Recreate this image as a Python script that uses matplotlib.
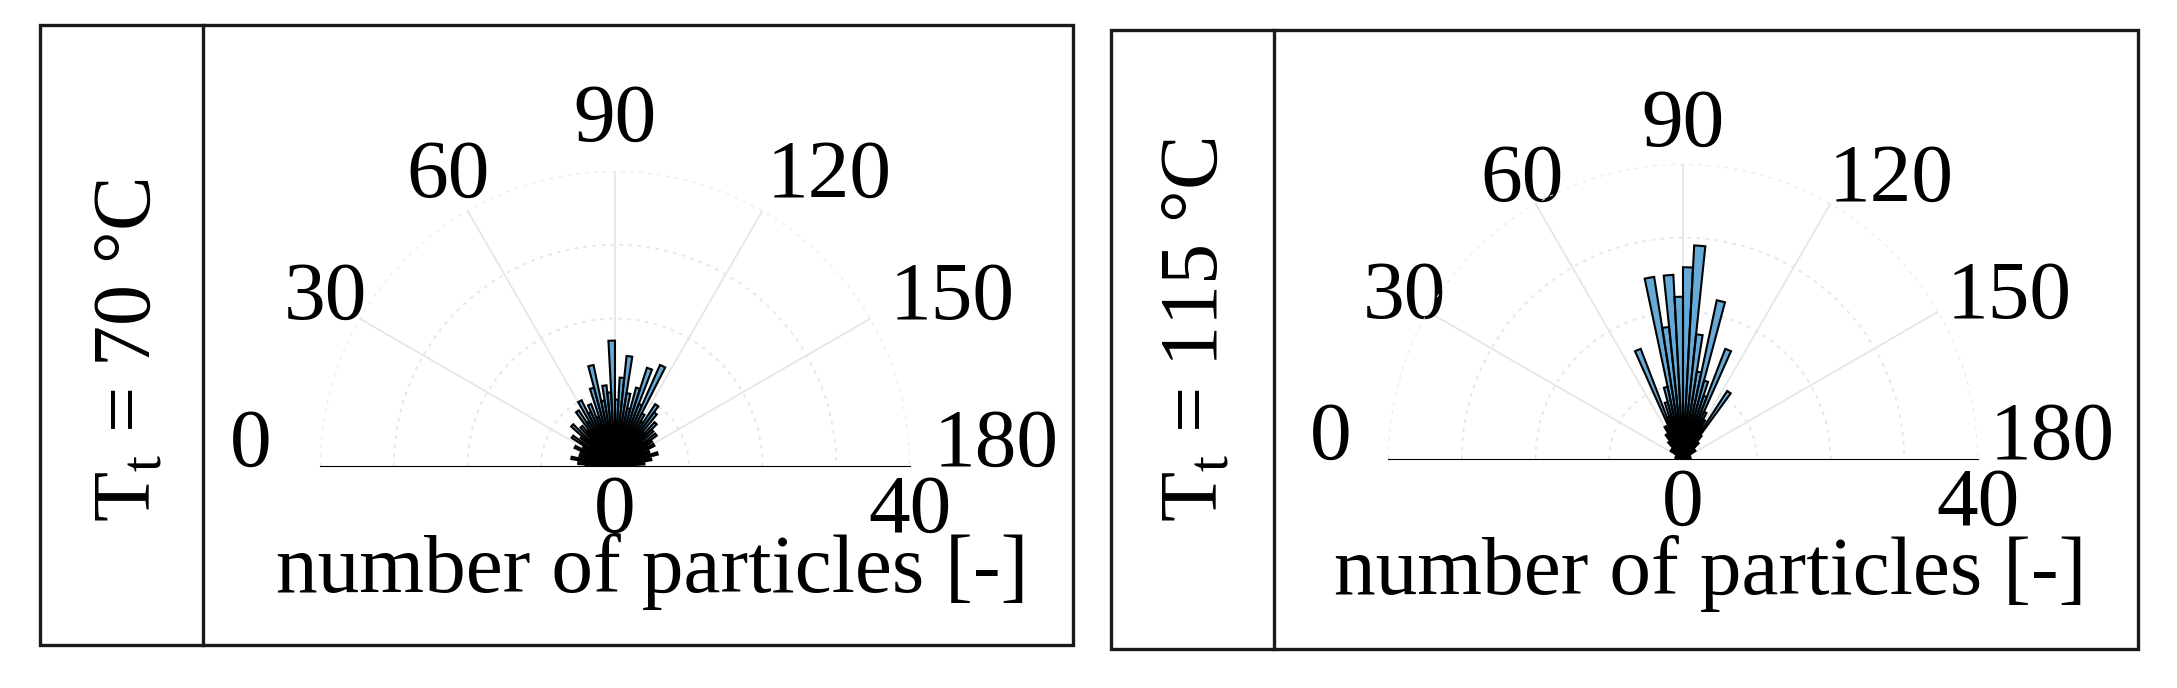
import numpy as np
import matplotlib
matplotlib.use('Agg')
import matplotlib.pyplot as plt
from matplotlib.patches import Rectangle
from matplotlib.lines import Line2D
from matplotlib.transforms import offset_copy, ScaledTranslation

plt.rcParams['font.family'] = ['Liberation Serif', 'DejaVu Serif']
plt.rcParams['mathtext.fontset'] = 'custom'
plt.rcParams['mathtext.rm'] = 'Liberation Serif'
plt.rcParams['mathtext.it'] = 'Liberation Serif:italic'

W, H = 2177, 688

# histogram of particle orientation, 3 deg bins
bin_width = 3
bin_centers = np.arange(1.5, 180, bin_width)

counts_70 = [4, 5, 3, 6, 4, 5, 3, 5, 6, 4,
             5, 7, 4, 6, 8, 5, 7, 6, 9, 7,
             10, 8, 9, 7, 11, 14, 9, 11, 10, 17,
             9, 12, 15, 10, 8, 11, 14, 9, 15, 8,
             7, 10, 9, 6, 8, 7, 5, 7, 6, 5,
             6, 4, 5, 3, 6, 4, 5, 3, 4, 2]

counts_115 = [0, 1, 0, 1, 1, 0, 1, 1, 0, 1,
              1, 2, 1, 2, 1, 2, 3, 2, 4, 3,
              5, 4, 16, 6, 8, 10, 25, 18, 25, 22,
              26, 29, 17, 12, 22, 11, 9, 16, 7, 6,
              5, 11, 4, 3, 3, 2, 2, 1, 2, 1,
              1, 0, 1, 1, 0, 1, 0, 1, 0, 1]

temps = ['70', '115']
angle_ticks = [0, 30, 60, 90, 120, 150, 180]
r_ticks = [0, 10, 20, 30, 40]
r_max = 40
xlabel = 'number of particles [-]'

# panel layout in pixels (x0, y0, x1, y1 from top-left)
layout = [
    dict(box=(40, 25, 1073, 645), div=203, center=(615, 466), R=295,
         tlabel=(130, 350), xlab=(652, 592), pad=21),
    dict(box=(1111, 30, 2138, 649), div=1274, center=(1683, 459), R=295,
         tlabel=(1197, 330), xlab=(1710, 594), pad=12),
]
# horizontal alignment and pixel nudge of the angle labels
label_ha = {0: 'right', 30: 'center', 60: 'center', 90: 'center',
            120: 'left', 150: 'left', 180: 'left'}
label_dx = {0: -10, 30: 0, 60: 0, 90: 0, 120: -15, 150: -15, 180: -15}

face = (0.0, 0.447, 0.741, 0.6)
grid_c = '#e6e6e6'
fs = 60

fig = plt.figure(figsize=(W / 100, H / 100), dpi=100)


def fx(x):
    return x / W


def fy(y):
    return 1 - y / H


for temp, counts, lay in zip(temps, [counts_70, counts_115], layout):
    x0, y0, x1, y1 = lay['box']
    fig.add_artist(Rectangle((fx(x0), fy(y1)), fx(x1) - fx(x0), fy(y0) - fy(y1),
                             transform=fig.transFigure, fill=False,
                             edgecolor='#1a1a1a', linewidth=2.4))
    fig.add_artist(Line2D([fx(lay['div'])] * 2, [fy(y0), fy(y1)],
                          transform=fig.transFigure, color='#1a1a1a', linewidth=2.4))

    cx, cy = lay['center']
    R = lay['R']
    # the half wedge is fitted into a square box, centred vertically
    ax = fig.add_axes([fx(cx - R), fy(cy + 0.5 * R), 2 * R / W, 2 * R / H],
                      projection='polar')
    ax.set_theta_zero_location('W')
    ax.set_theta_direction(-1)
    ax.set_thetamin(0)
    ax.set_thetamax(180)
    ax.set_ylim(0, r_max)

    ax.bar(np.deg2rad(bin_centers), counts, width=np.deg2rad(bin_width),
           facecolor=face, edgecolor='black', linewidth=1.5, zorder=3)

    ax.set_thetagrids(angle_ticks, [str(a) for a in angle_ticks], fontsize=fs)
    ax.set_rticks(r_ticks)
    ax.set_yticklabels([])
    ax.tick_params(axis='both', length=0)
    ax.xaxis.grid(True, color=grid_c, linewidth=1.3, linestyle='-')
    ax.yaxis.grid(True, color=grid_c, linewidth=1.3, linestyle=(0, (2, 3)))
    for s in ax.spines.values():
        s.set_visible(False)
    ax.set_facecolor('none')
    for a, tick in zip(angle_ticks, ax.xaxis.get_major_ticks()):
        lab = tick.label1
        lab.set_ha(label_ha[a])
        if a == 90:
            tick.set_pad(lay['pad'] - 6)
            lab.set_va('baseline')
        else:
            tick.set_pad(lay['pad'])
        if a in (0, 180):
            lab.set_va('baseline')
            tick.gridline.set_visible(False)
        if label_dx[a]:
            lab.set_transform(lab.get_transform() +
                              ScaledTranslation(label_dx[a] / 100, 0, fig.dpi_scale_trans))

    # radial labels under the baseline
    tr = offset_copy(ax.transData, fig=fig, y=-6, units='points')
    for r in (r_ticks[0], r_ticks[-1]):
        ax.text(np.pi, r, str(r), transform=tr, ha='center', va='top',
                fontsize=fs, clip_on=False)

    fig.text(fx(lay['xlab'][0]), fy(lay['xlab'][1]), xlabel, ha='center',
             va='baseline', fontsize=fs)
    fig.text(fx(lay['tlabel'][0]), fy(lay['tlabel'][1]),
             'T$_\\mathrm{t}$ = ' + temp + ' °C', rotation=90,
             ha='center', va='center', fontsize=59)

fig.savefig('out.png', dpi=100)
